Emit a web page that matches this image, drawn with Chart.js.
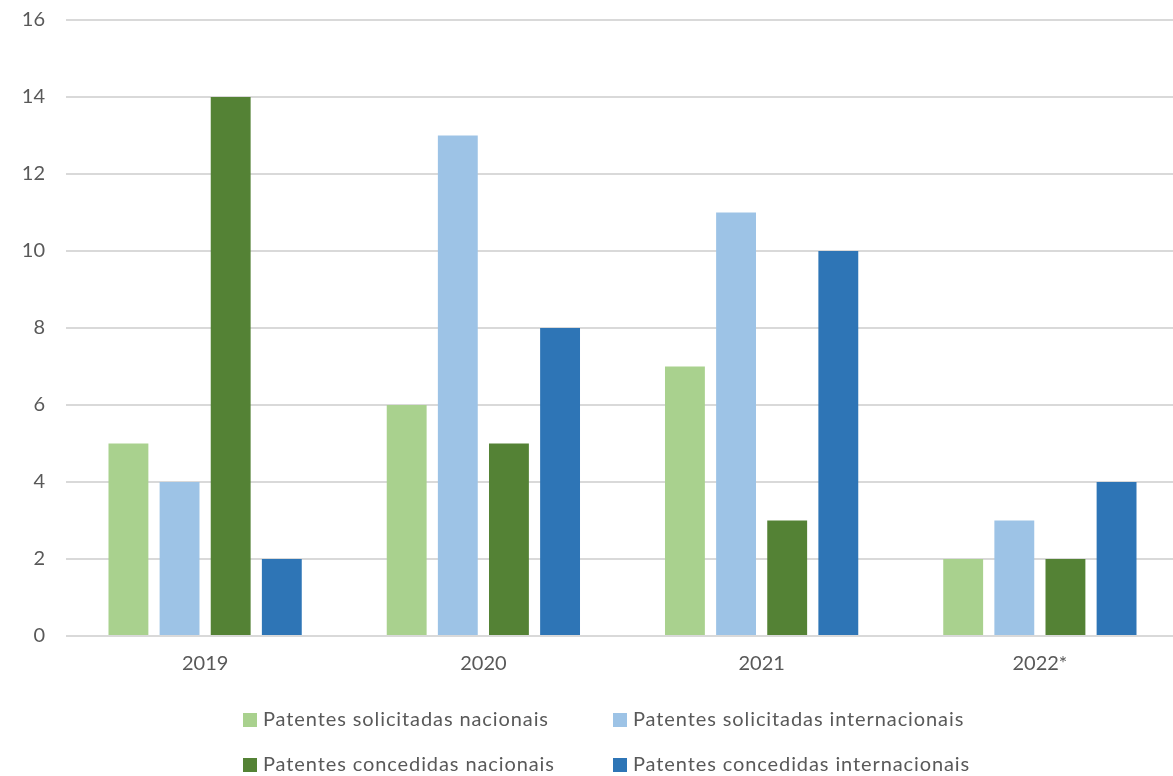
<!DOCTYPE html>
<html>
<head>
<meta charset="utf-8">
<script src="https://cdn.jsdelivr.net/npm/chart.js@4/dist/chart.umd.min.js"></script>
<style>
  html, body { margin: 0; padding: 0; background: #fff; overflow: hidden; }
  #wrap { width: 1173px; height: 776px; position: relative; overflow: hidden; }
  #chart { position: absolute; left: 0; top: -13px; }
</style>
</head>
<body>
<div id="wrap"><canvas id="chart" width="1179" height="785"></canvas></div>
<script>
/** Patentes por ano - bar chart */

const years = ['2019', '2020', '2021', '2022*'];
const solicitadasNacionais = [5, 6, 7, 2];
const solicitadasInternacionais = [4, 13, 11, 3];
const concedidasNacionais = [14, 5, 3, 2];
const concedidasInternacionais = [2, 8, 10, 4];
const yTicks = [0, 2, 4, 6, 8, 10, 12, 14, 16];

const seriesNames = [
    'Patentes solicitadas nacionais',
    'Patentes solicitadas internacionais',
    'Patentes concedidas nacionais',
    'Patentes concedidas internacionais'
];
const seriesColors = ['#A9D18E', '#9DC3E6', '#548235', '#2E75B6'];
const FONT = 'Lato, "Open Sans", sans-serif';

// legend drawn in two columns, like the original (canvas sits 13px above the page top)
const legendPlugin = {
    id: 'gridLegend',
    afterDraw(chart) {
        const ctx = chart.ctx;
        const cols = [243, 613];
        const rows = [733, 778];
        ctx.save();
        ctx.font = '20px ' + FONT;
        ctx.letterSpacing = '0.9px';
        ctx.textBaseline = 'middle';
        chart.data.datasets.forEach((ds, i) => {
            const x = cols[i % 2];
            const y = rows[Math.floor(i / 2)];
            ctx.fillStyle = ds.backgroundColor;
            ctx.fillRect(x, y - 7, 14, 14);
            ctx.fillStyle = '#595959';
            ctx.fillText(ds.label, x + 20, y);
        });
        ctx.restore();
    }
};

function main() {
    const values = [solicitadasNacionais, solicitadasInternacionais, concedidasNacionais, concedidasInternacionais];
    new Chart(document.getElementById('chart'), {
        type: 'bar',
        data: {
            labels: years,
            datasets: values.map((data, i) => ({
                label: seriesNames[i],
                data,
                backgroundColor: seriesColors[i],
                borderWidth: 0,
                categoryPercentage: 0.735,
                barPercentage: 0.78
            }))
        },
        options: {
            responsive: false,
            animation: false,
            layout: { padding: { top: 0, right: 0, bottom: 88, left: 0 } },
            plugins: {
                legend: { display: false },
                tooltip: { enabled: false }
            },
            scales: {
                x: {
                    grid: { display: false },
                    border: { display: false },
                    ticks: { color: '#595959', font: { family: FONT, size: 20 }, padding: 8 }
                },
                y: {
                    min: 0,
                    max: 16,
                    afterBuildTicks: scale => { scale.ticks = yTicks.map(v => ({ value: v })); },
                    afterFit: scale => { scale.width = 66; },
                    grid: { color: '#D9D9D9', lineWidth: 2, drawTicks: false },
                    border: { display: false },
                    ticks: { color: '#595959', font: { family: FONT, size: 20 }, padding: 21 }
                }
            }
        },
        plugins: [legendPlugin]
    });
}

window.onload = main;
</script>
</body>
</html>
